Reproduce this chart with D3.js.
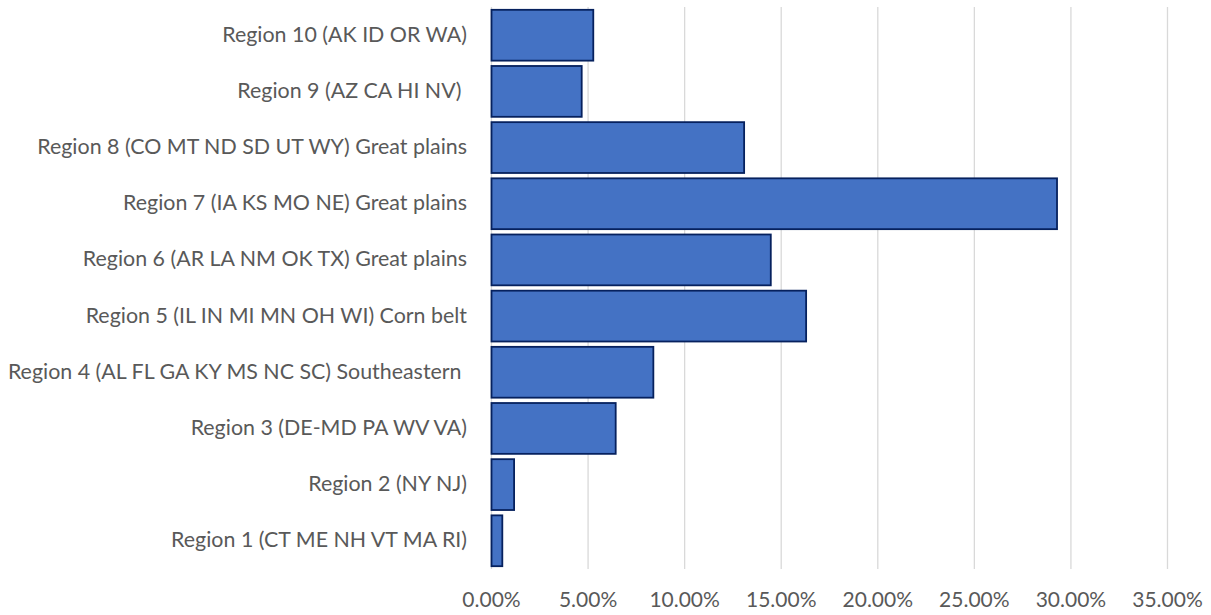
<!DOCTYPE html>
<html>
<head>
<meta charset="utf-8">
<script src="https://cdn.jsdelivr.net/npm/d3@7"></script>
<style>
	body { margin: 0; background: #fff; }
	text { font-family: Lato, "Open Sans", sans-serif; fill: #595959; white-space: pre; }
</style>
</head>
<body>
<svg id="chart"></svg>
<script>
// regions, top of the chart first
const regions = [
	'Region 10 (AK ID OR WA)',
	'Region 9 (AZ CA HI NV) ',
	'Region 8 (CO MT ND SD UT WY) Great plains',
	'Region 7 (IA KS MO NE) Great plains',
	'Region 6 (AR LA NM OK TX) Great plains',
	'Region 5 (IL IN MI MN OH WI) Corn belt',
	'Region 4 (AL FL GA KY MS NC SC) Southeastern ',
	'Region 3 (DE-MD PA WV VA)',
	'Region 2 (NY NJ)',
	'Region 1 (CT ME NH VT MA RI)'
];
const shares = [0.0527, 0.0467, 0.1308, 0.2928, 0.1446, 0.1629, 0.0838, 0.0643, 0.0117, 0.0056];
const x_ticks = [0, 0.05, 0.10, 0.15, 0.20, 0.25, 0.30, 0.35];

const width = 1211, height = 615;
const svg = d3.select('#chart').attr('width', width).attr('height', height);

const x = d3.scaleLinear().domain([0, 0.35]).range([491.5, 1167.5]);
const y = d3.scaleBand().domain(regions).range([7, 569])
	.paddingInner(0.095).paddingOuter(0.05);

// gridlines
svg.append('g')
	.selectAll('line')
	.data(x_ticks)
	.join('line')
	.attr('x1', d => x(d)).attr('x2', d => x(d))
	.attr('y1', 7).attr('y2', 569)
	.attr('stroke', '#d9d9d9')
	.attr('stroke-width', 1.3);

// bars
svg.append('g')
	.selectAll('rect')
	.data(regions)
	.join('rect')
	.attr('x', x(0))
	.attr('y', d => y(d))
	.attr('width', (d, i) => x(shares[i]) - x(0))
	.attr('height', y.bandwidth())
	.attr('fill', '#4472c4')
	.attr('stroke', '#06215e')
	.attr('stroke-width', 1.8);

// category labels
svg.append('g')
	.selectAll('text')
	.data(regions)
	.join('text')
	.attr('x', 467)
	.attr('y', d => y(d) + y.bandwidth() / 2 - 1)
	.attr('dy', '0.35em')
	.attr('text-anchor', 'end')
	.style('font-size', '21.4px')
	.text(d => d);

// x axis labels
svg.append('g')
	.selectAll('text')
	.data(x_ticks)
	.join('text')
	.attr('x', d => x(d))
	.attr('y', 600)
	.attr('dy', '0.35em')
	.attr('text-anchor', 'middle')
	.style('font-size', '21px')
	.text(d3.format('.2%'));
</script>
</body>
</html>
